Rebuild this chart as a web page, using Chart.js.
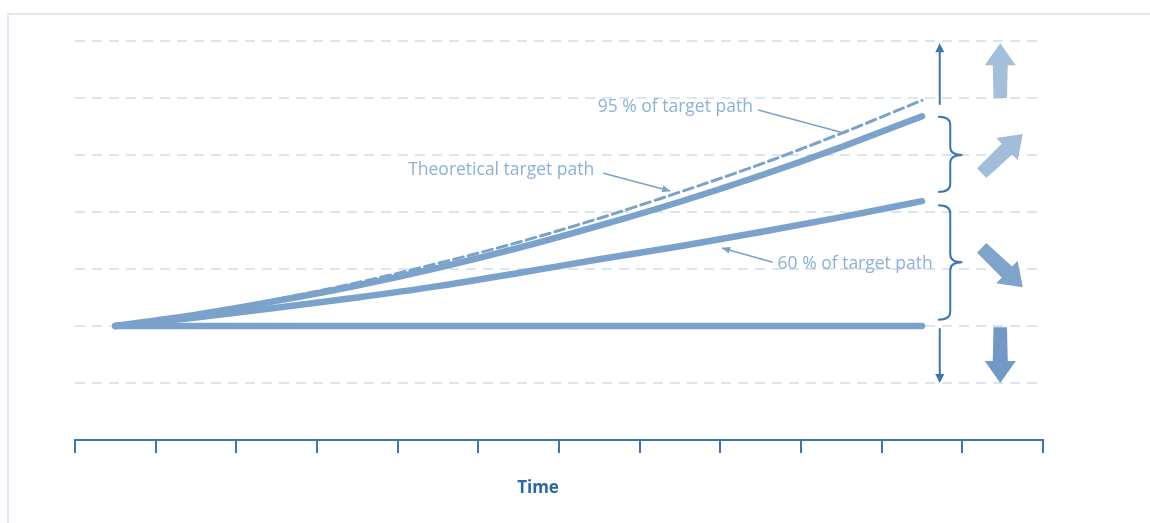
<!DOCTYPE html>
<html>
<head>
<meta charset="utf-8">
<script src="https://cdn.jsdelivr.net/npm/chart.js@4.4.1/dist/chart.umd.min.js"></script>
<style>
    body { margin: 0; background: #fff; }
    #wrap { width: 1150px; height: 523px; position: relative; }
</style>
</head>
<body>
<div id="wrap"><canvas id="pathChart"></canvas></div>
<script>
// time steps along the path (x axis runs 0..12, tick every 1)
const timeSteps = [0.5, 1.5, 2.5, 3.5, 4.5, 5.5, 6.5, 7.5, 8.5, 9.5, 10.5];
const theoreticalPath = [0, 0.21, 0.47, 0.76, 1.10, 1.47, 1.89, 2.35, 2.84, 3.38, 3.96];
const path95 = [0, 0.20, 0.44, 0.71, 1.02, 1.37, 1.76, 2.18, 2.64, 3.14, 3.68];
const path60 = [0, 0.15, 0.32, 0.50, 0.70, 0.93, 1.17, 1.40, 1.65, 1.91, 2.19];
const flatPath = [0, 0, 0, 0, 0, 0, 0, 0, 0, 0, 0];

const xTickValues = [0, 1, 2, 3, 4, 5, 6, 7, 8, 9, 10, 11, 12];
const yGridValues = [-2, -1, 0, 1, 2, 3, 4, 5];

const axisTitle = 'Time';
const pathLabels = ['95 % of target path', 'Theoretical target path', '60 % of target path'];

const lineBlue = '#7ba2cb';
const darkBlue = '#3d74b2';
const labelBlue = '#8db0d6';

const toPoints = ys => timeSteps.map((x, i) => ({ x: x, y: ys[i] }));

// helpers for the annotation drawings
function drawArrowHead(ctx, x0, y0, x1, y1, len, wid) {
    const a = Math.atan2(y1 - y0, x1 - x0);
    ctx.beginPath();
    ctx.moveTo(x1, y1);
    ctx.lineTo(x1 - len * Math.cos(a) + wid * Math.sin(a), y1 - len * Math.sin(a) - wid * Math.cos(a));
    ctx.lineTo(x1 - len * Math.cos(a) - wid * Math.sin(a), y1 - len * Math.sin(a) + wid * Math.cos(a));
    ctx.closePath();
    ctx.fill();
}

function drawBigArrow(ctx, x0, y0, x1, y1, color) {
    const shaft = 7.5, head = 15.5, headLen = 22;
    const a = Math.atan2(y1 - y0, x1 - x0);
    const L = Math.hypot(x1 - x0, y1 - y0);
    ctx.save();
    ctx.translate(x0, y0);
    ctx.rotate(a);
    ctx.beginPath();
    ctx.moveTo(0, -shaft * 0.9);
    ctx.lineTo(L - headLen, -shaft);
    ctx.lineTo(L - headLen, -head);
    ctx.lineTo(L, 0);
    ctx.lineTo(L - headLen, head);
    ctx.lineTo(L - headLen, shaft);
    ctx.lineTo(0, shaft * 0.9);
    ctx.closePath();
    ctx.fillStyle = color;
    ctx.fill();
    ctx.restore();
}

function drawBrace(ctx, xl, xm, xp, top, mid, bottom) {
    const r = 8;
    ctx.beginPath();
    ctx.moveTo(xl, top);
    ctx.quadraticCurveTo(xm, top, xm, top + r);
    ctx.lineTo(xm, mid - r);
    ctx.quadraticCurveTo(xm, mid, xp, mid);
    ctx.quadraticCurveTo(xm, mid, xm, mid + r);
    ctx.lineTo(xm, bottom - r);
    ctx.quadraticCurveTo(xm, bottom, xl, bottom);
    ctx.stroke();
}

const annotations = {
    id: 'annotations',
    beforeDraw(chart) {
        const ctx = chart.ctx;
        ctx.save();
        ctx.strokeStyle = '#dde7f3';
        ctx.lineWidth = 2;
        ctx.beginPath();
        ctx.moveTo(8, chart.height);
        ctx.lineTo(8, 14);
        ctx.lineTo(chart.width, 14);
        ctx.stroke();
        ctx.restore();
    },
    afterDraw(chart) {
        const ctx = chart.ctx;
        const xs = chart.scales.x, ys = chart.scales.y;
        const px = v => xs.getPixelForValue(v);
        const py = v => ys.getPixelForValue(v);
        ctx.save();

        // path labels and leader lines
        ctx.font = '17.5px "Open Sans"';
        ctx.fillStyle = labelBlue;
        ctx.textAlign = 'left';
        ctx.textBaseline = 'middle';
        ctx.fillText(pathLabels[0], px(6.48), py(3.84));
        ctx.fillText(pathLabels[1], px(4.13), py(2.74));
        ctx.fillText(pathLabels[2], px(8.71), py(1.09));

        ctx.strokeStyle = lineBlue;
        ctx.fillStyle = lineBlue;
        ctx.lineWidth = 1.5;
        const leaders = [
            [8.47, 3.79, 9.52, 3.39, false],
            [6.55, 2.68, 7.38, 2.37, true],
            [8.65, 1.12, 8.02, 1.37, true]
        ];
        leaders.forEach(l => {
            ctx.beginPath();
            ctx.moveTo(px(l[0]), py(l[1]));
            ctx.lineTo(px(l[2]), py(l[3]));
            ctx.stroke();
            if (l[4]) drawArrowHead(ctx, px(l[0]), py(l[1]), px(l[2]), py(l[3]), 8, 3.5);
        });

        // thin arrows and braces
        ctx.strokeStyle = darkBlue;
        ctx.fillStyle = darkBlue;
        ctx.lineWidth = 2;
        ctx.beginPath();
        ctx.moveTo(px(10.72), py(3.88));
        ctx.lineTo(px(10.72), py(4.92));
        ctx.moveTo(px(10.72), py(-0.04));
        ctx.lineTo(px(10.72), py(-0.96));
        ctx.stroke();
        drawArrowHead(ctx, px(10.72), py(3.88), px(10.72), py(4.96), 9, 4.5);
        drawArrowHead(ctx, px(10.72), py(-0.04), px(10.72), py(-1), 9, 4.5);

        drawBrace(ctx, px(10.70), px(10.85), px(11.0), py(3.67), py(3.0), py(2.35));
        drawBrace(ctx, px(10.70), px(10.85), px(11.0), py(2.12), py(1.12), py(0.11));

        // big direction arrows
        drawBigArrow(ctx, px(11.47), py(4.0), px(11.47), py(4.96), '#a3bfdb');
        drawBigArrow(ctx, px(11.24), py(2.68), px(11.75), py(3.37), '#a0bdda');
        drawBigArrow(ctx, px(11.24), py(1.37), px(11.75), py(0.68), '#7ea4cc');
        drawBigArrow(ctx, px(11.47), py(-0.02), px(11.47), py(-1.0), '#7099c6');

        // axis title
        ctx.font = 'bold 17px "Open Sans"';
        ctx.fillStyle = '#2b66a9';
        ctx.textAlign = 'center';
        ctx.fillText(axisTitle, px(5.74), 488);

        ctx.restore();
    }
};

const ctx = document.getElementById('pathChart').getContext('2d');
new Chart(ctx, {
    type: 'line',
    data: {
        datasets: [
            {
                label: pathLabels[1],
                data: toPoints(theoreticalPath),
                borderColor: lineBlue,
                borderWidth: 3,
                borderDash: [10, 5]
            },
            {
                label: pathLabels[0],
                data: toPoints(path95),
                borderColor: lineBlue,
                borderWidth: 6.5
            },
            {
                label: pathLabels[2],
                data: toPoints(path60),
                borderColor: lineBlue,
                borderWidth: 6.5
            },
            {
                label: 'Flat',
                data: toPoints(flatPath),
                borderColor: lineBlue,
                borderWidth: 6.5
            }
        ]
    },
    options: {
        responsive: true,
        maintainAspectRatio: false,
        animation: false,
        layout: { padding: { left: 75, right: 107, top: 41, bottom: 0 } },
        elements: {
            point: { radius: 0 },
            line: { cubicInterpolationMode: 'monotone', borderCapStyle: 'round', fill: false }
        },
        plugins: {
            legend: { display: false },
            tooltip: { enabled: false }
        },
        scales: {
            x: {
                type: 'linear',
                min: xTickValues[0],
                max: xTickValues[xTickValues.length - 1],
                afterBuildTicks: scale => { scale.ticks = xTickValues.map(v => ({ value: v })); },
                afterFit: scale => { scale.height = 83; },
                ticks: { display: false },
                grid: { drawOnChartArea: false, color: darkBlue, lineWidth: 2, tickLength: 13 },
                border: { color: darkBlue, width: 2 }
            },
            y: {
                min: yGridValues[0],
                max: yGridValues[yGridValues.length - 1],
                afterBuildTicks: scale => { scale.ticks = yGridValues.map(v => ({ value: v })); },
                afterFit: scale => { scale.width = 0; },
                ticks: { display: false },
                grid: {
                    drawTicks: false,
                    lineWidth: 2,
                    color: c => c.tick && c.tick.value === yGridValues[0] ? 'rgba(0,0,0,0)' : '#dbe5f1'
                },
                border: { display: false, dash: [10, 7] }
            }
        }
    },
    plugins: [annotations]
});
</script>
</body>
</html>
